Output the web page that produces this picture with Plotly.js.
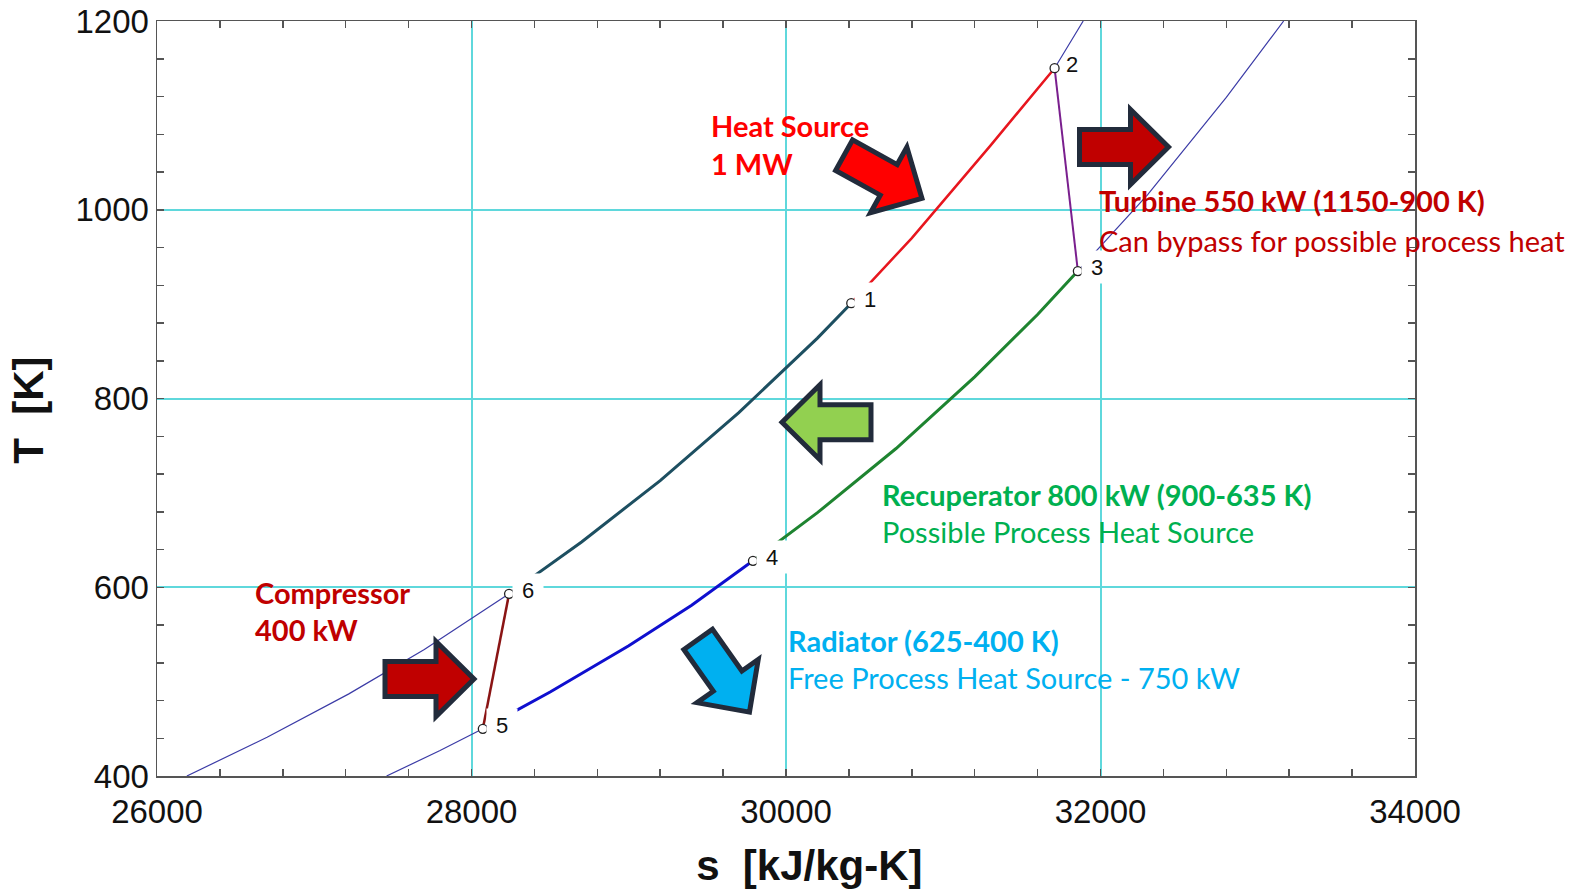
<!DOCTYPE html>
<html>
<head>
<meta charset="utf-8">
<script src="https://cdn.plot.ly/plotly-3.0.1.min.js"></script>
<style>html,body{margin:0;padding:0;background:#fff;}#chart{width:1587px;height:889px;}</style>
</head>
<body>
<div id="chart"></div>
<script>
// ---- Data ----
// High-pressure isobar (through states 6, 1, 2)
const isoHighS = [26190, 26700, 27220, 27700, 28239, 28700, 29200, 29700, 30200, 30415, 30800, 31300, 31708, 31890];
const isoHighT = [400, 441, 487, 534, 593, 648, 713, 785, 864, 901, 970, 1068, 1150, 1200];
// Low-pressure isobar (through states 5, 4, 3)
const isoLowS = [27460, 27800, 28072, 28500, 29000, 29400, 29790, 30200, 30700, 31200, 31600, 31856, 32300, 32800, 33165];
const isoLowT = [400, 427, 450, 489, 538, 581, 628, 679, 747, 823, 889, 935, 1016, 1119, 1200];
// State points 1..6
const stateLabels = ['1', '2', '3', '4', '5', '6'];
const stateS = [30415, 31708, 31856, 29790, 28072, 28239];
const stateT = [901, 1150, 935, 628, 450, 593];
// Axis ticks
const xTicks = [26000, 28000, 30000, 32000, 34000];
const yTicks = [400, 600, 800, 1000, 1200];

// ---- helpers ----
const PL = 157, PR = 1415, PT = 21, PB = 776;
function px(x) { return (x - PL) / (PR - PL); }
function py(y) { return (PB - y) / (PB - PT); }
function idx(lbl) { return stateLabels.indexOf(lbl); }
function seg(sArr, tArr, a, b) {
  const sa = stateS[idx(a)], sb = stateS[idx(b)];
  const lo = Math.min(sa, sb), hi = Math.max(sa, sb);
  const xs = [], ys = [];
  sArr.forEach((s, i) => { if (s >= lo - 1e-6 && s <= hi + 1e-6) { xs.push(s); ys.push(tArr[i]); } });
  return { x: xs, y: ys };
}
function line(a, b) { return { x: [stateS[idx(a)], stateS[idx(b)]], y: [stateT[idx(a)], stateT[idx(b)]] }; }

const traces = [];
traces.push({ x: isoHighS, y: isoHighT, mode: 'lines', line: { color: '#3b3ba6', width: 1.2 }, hoverinfo: 'skip' });
traces.push({ x: isoLowS, y: isoLowT, mode: 'lines', line: { color: '#3b3ba6', width: 1.2 }, hoverinfo: 'skip' });
const s61 = seg(isoHighS, isoHighT, '6', '1');
traces.push({ x: s61.x, y: s61.y, mode: 'lines', line: { color: '#1d4f61', width: 3 } });
const s12 = seg(isoHighS, isoHighT, '1', '2');
traces.push({ x: s12.x, y: s12.y, mode: 'lines', line: { color: '#e8161e', width: 2.5 } });
const s34 = seg(isoLowS, isoLowT, '3', '4');
traces.push({ x: s34.x, y: s34.y, mode: 'lines', line: { color: '#1e8430', width: 3 } });
const s45 = seg(isoLowS, isoLowT, '4', '5');
traces.push({ x: s45.x, y: s45.y, mode: 'lines', line: { color: '#0f0fcf', width: 3 } });
const l56 = line('5', '6');
traces.push({ x: l56.x, y: l56.y, mode: 'lines', line: { color: '#8a1414', width: 2.5 } });
const l23 = line('2', '3');
traces.push({ x: l23.x, y: l23.y, mode: 'lines', line: { color: '#7a1f8e', width: 2 } });
traces.push({ x: stateS, y: stateT, mode: 'markers', marker: { size: 9, color: '#ffffff', line: { color: '#222', width: 1.3 } } });

// ---- annotations ----
const annotations = [];
stateLabels.forEach((lbl, i) => {
  const noBg = (lbl === '2');
  annotations.push({
    x: stateS[i], y: stateT[i], xref: 'x', yref: 'y', text: lbl, showarrow: false,
    xanchor: 'left', yanchor: 'middle', xshift: noBg ? 9 : 3, yshift: 4,
    width: noBg ? null : 28, height: noBg ? null : 30,
    bgcolor: noBg ? 'rgba(0,0,0,0)' : '#ffffff', align: 'center',
    font: { family: 'Liberation Sans, Arial, sans-serif', size: 22, color: '#111' }
  });
});
const F = 'Lato, "Open Sans", sans-serif';
function txt(text, x, y, color, size) {
  annotations.push({ xref: 'paper', yref: 'paper', x: px(x), y: py(y), text: text, showarrow: false,
    xanchor: 'left', yanchor: 'middle', font: { family: F, size: size || 29, color: color } });
}
txt('<b>Heat Source</b>', 709, 125.5, '#ff0000');
txt('<b>1 MW</b>', 709, 163, '#ff0000');
txt('<b>Turbine 550 kW (1150-900 K)</b>', 1097, 200.5, '#c00000');
txt('Can bypass for possible process heat', 1097, 240, '#c00000');
txt('<b>Recuperator 800 kW (900-635 K)</b>', 879.5, 494, '#00b050');
txt('Possible Process Heat Source', 879.5, 531.5, '#00b050');
txt('<b>Radiator (625-400 K)</b>', 785.5, 640, '#00b0f0');
txt('Free Process Heat Source - 750 kW', 785.5, 677, '#00b0f0');
txt('<b>Compressor</b>', 253, 592, '#c00000');
txt('<b>400 kW</b>', 253, 629.5, '#c00000');

// ---- block arrows (pixel geometry -> paper) ----
function arrow(tipX, tipY, angDeg, fill) {
  const a = angDeg * Math.PI / 180, ux = Math.cos(a), uy = Math.sin(a), vx = -uy, vy = ux;
  const inset = 3.5, L = 89, sw = 17.5, hw = 37.5, hl = 38;
  const tx = tipX - ux * inset, ty = tipY - uy * inset;
  const P = (u, v) => [tx - ux * u + vx * v, ty - uy * u + vy * v];
  const pts = [P(0, 0), P(hl, hw), P(hl, sw), P(L, sw), P(L, -sw), P(hl, -sw), P(hl, -hw)];
  const path = pts.map((p, i) => (i ? 'L' : 'M') + px(p[0]).toFixed(5) + ',' + py(p[1]).toFixed(5)).join(' ') + ' Z';
  return { type: 'path', xref: 'paper', yref: 'paper', path: path, fillcolor: fill, line: { color: '#222b3b', width: 5 }, layer: 'above' };
}
const shapes = [
  arrow(925, 200, 29, '#ff0000'),
  arrow(1172, 147, 0, '#c00000'),
  arrow(477.5, 679, 0, '#c00000'),
  arrow(778.5, 422.3, 180, '#92d050'),
  arrow(751.5, 715, 54.8, '#00b0f0')
];

const axisCommon = {
  ticks: 'inside', ticklen: 7, tickwidth: 1.5, tickcolor: '#555',
  showline: true, linecolor: '#555', linewidth: 1.5, mirror: 'allticks',
  showgrid: true, gridcolor: '#5fd8dc', gridwidth: 2, zeroline: false,
  tickfont: { family: 'Liberation Sans, Arial, sans-serif', size: 33, color: '#111' }
};
const layout = {
  width: 1587, height: 889,
  margin: { l: PL, r: 1587 - PR, t: PT, b: 889 - PB },
  paper_bgcolor: '#ffffff', plot_bgcolor: '#ffffff', showlegend: false,
  xaxis: Object.assign({}, axisCommon, {
    range: [26000, 34000], tickvals: xTicks, ticktext: xTicks.map(String),
    minor: { dtick: 400, tick0: 26000, ticks: 'inside', ticklen: 7, tickwidth: 1.5, tickcolor: '#555', showgrid: false },
    ticklabelstandoff: 6,
    title: { text: '<b>\u00a0\u00a0\u00a0\u00a0s\u00a0\u00a0[kJ/kg-K]</b>', standoff: 24, font: { family: 'Liberation Sans, Arial, sans-serif', size: 42, color: '#111' } }
  }),
  yaxis: Object.assign({}, axisCommon, {
    range: [400, 1200], tickvals: yTicks, ticktext: yTicks.map(String),
    minor: { dtick: 40, tick0: 400, ticks: 'inside', ticklen: 7, tickwidth: 1.5, tickcolor: '#555', showgrid: false },
    title: { text: '<b>T\u00a0\u00a0[K]\u00a0\u00a0</b>', standoff: 19, font: { family: 'Liberation Sans, Arial, sans-serif', size: 42, color: '#111' } }
  }),
  annotations: annotations,
  shapes: shapes
};
Plotly.newPlot('chart', traces, layout, { displayModeBar: false, staticPlot: true });
</script>
</body>
</html>
